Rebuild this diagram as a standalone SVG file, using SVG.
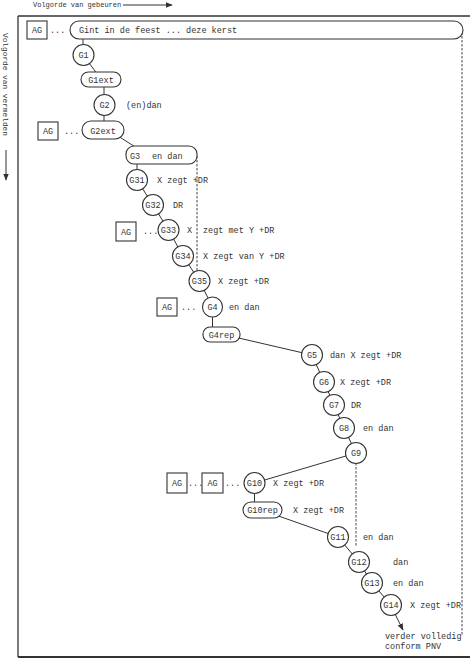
<svg xmlns="http://www.w3.org/2000/svg" width="470" height="659" viewBox="0 0 470 659">
<defs>
<style>
text{font-family:"Liberation Mono","DejaVu Sans Mono",monospace;font-size:8.5px;fill:#333}
.lbl{text-anchor:middle}
.n{fill:#fff;stroke:#333;stroke-width:1.1}
.c{stroke:#333;stroke-width:1;fill:none}
.d{stroke:#444;stroke-width:1;stroke-dasharray:2.5,1.5;fill:none}
.f{stroke:#333;fill:none}
.small{font-size:7px}
</style>
<marker id="ah" viewBox="0 0 10 10" refX="9" refY="5" markerWidth="7" markerHeight="7" orient="auto-start-reverse"><path d="M0,1 L10,5 L0,9 Z" fill="#333"/></marker>
</defs>
<rect width="470" height="659" fill="#fff"/>
<g id="frame">
<line class="f" x1="18" y1="16" x2="470" y2="16" stroke-width="1.3"/>
<line class="f" x1="18" y1="16" x2="18" y2="657" stroke-width="1.3"/>
<line class="f" x1="18" y1="657" x2="470" y2="657" stroke-width="2"/>
<text class="small" x="33" y="7">Volgorde van gebeuren</text>
<line class="c" x1="123" y1="5" x2="172" y2="5" marker-end="url(#ah)"/>
<text class="small" style="font-size:7.8px" transform="translate(3,33) rotate(90)">Volgorde van vermelden</text>
<line class="c" x1="6" y1="150" x2="6" y2="180" marker-end="url(#ah)"/>
</g>
<g id="connectors">
<line class="c" x1="83" y1="39" x2="83" y2="55"/>
<line class="c" x1="83" y1="55" x2="101" y2="79"/>
<line class="c" x1="104" y1="79" x2="104" y2="130"/>
<line class="c" x1="118" y1="136" x2="140" y2="150"/>
<line class="c" x1="137" y1="160" x2="137" y2="180"/>
<line class="c" x1="137" y1="180" x2="153" y2="205"/>
<line class="c" x1="153" y1="205" x2="168.5" y2="230"/>
<line class="c" x1="168.5" y1="230" x2="183" y2="256"/>
<line class="c" x1="183" y1="256" x2="199.5" y2="281"/>
<line class="c" x1="199.5" y1="281" x2="212.5" y2="307"/>
<line class="c" x1="212.5" y1="307" x2="212.5" y2="334"/>
<line class="c" x1="230" y1="336" x2="312" y2="355"/>
<line class="c" x1="312" y1="355" x2="324" y2="382"/>
<line class="c" x1="324" y1="382" x2="334" y2="405"/>
<line class="c" x1="334" y1="405" x2="344" y2="428"/>
<line class="c" x1="344" y1="428" x2="356" y2="453"/>
<line class="c" x1="356" y1="453" x2="254.5" y2="483"/>
<line class="c" x1="254.5" y1="483" x2="254.5" y2="510"/>
<line class="c" x1="270" y1="513" x2="338" y2="537"/>
<line class="c" x1="338" y1="537" x2="359" y2="562"/>
<line class="c" x1="359" y1="562" x2="372" y2="583"/>
<line class="c" x1="372" y1="583" x2="391" y2="605"/>
<line class="c" x1="394" y1="612" x2="403" y2="630" marker-end="url(#ah)"/>
<line class="d" x1="462" y1="32" x2="462" y2="636"/>
<line class="d" x1="197" y1="156" x2="197" y2="272"/>
<line class="d" x1="356" y1="463" x2="356" y2="546"/>
</g>
<g id="top">
<rect class="n" x="27" y="21" width="20" height="18"/>
<text class="lbl" x="37" y="33">AG</text>
<text x="50" y="33">...</text>
<rect class="n" x="70" y="21" width="393" height="18" rx="9"/>
<text x="79" y="33">Gint in de feest ... deze kerst</text>
</g>
<g id="G1"><circle class="n" cx="83.5" cy="55" r="10.5"/><text class="lbl" x="83.5" y="58">G1</text></g>
<g id="G1ext"><rect class="n" x="81" y="72" width="40" height="15" rx="7.5"/><text class="lbl" x="101" y="82.5">G1ext</text></g>
<g id="G2"><circle class="n" cx="104.5" cy="105" r="10.5"/><text class="lbl" x="104.5" y="108">G2</text><text x="126" y="108">(en)dan</text></g>
<g id="G2ext">
<rect class="n" x="38" y="122" width="20" height="18"/><text class="lbl" x="48" y="134">AG</text>
<text x="64" y="134">...</text>
<rect class="n" x="82" y="121" width="42" height="18" rx="9"/><text class="lbl" x="103" y="133.5">G2ext</text>
</g>
<g id="G3"><rect class="n" x="126" y="146" width="71" height="18" rx="8"/><text x="130" y="158.5">G3</text><text x="152" y="158.5">en dan</text></g>
<g id="G31"><circle class="n" cx="137" cy="180" r="10.5"/><text class="lbl" x="137" y="183">G31</text><text x="157" y="183">X zegt +DR</text></g>
<g id="G32"><circle class="n" cx="153" cy="205" r="10.5"/><text class="lbl" x="153" y="208">G32</text><text x="173" y="208">DR</text></g>
<g id="G33">
<rect class="n" x="116" y="222" width="20" height="19"/><text class="lbl" x="126" y="234.5">AG</text>
<text x="143" y="234">...</text>
<circle class="n" cx="168.5" cy="230" r="10.5"/><text class="lbl" x="168.5" y="233">G33</text>
<text x="187" y="233">X</text><text x="203" y="233">zegt met Y +DR</text>
</g>
<g id="G34"><circle class="n" cx="183" cy="256" r="10.5"/><text class="lbl" x="183" y="259">G34</text><text x="203" y="259">X zegt van Y +DR</text></g>
<g id="G35"><circle class="n" cx="199.5" cy="281" r="10.5"/><text class="lbl" x="199.5" y="284">G35</text><text x="218" y="284">X zegt +DR</text></g>
<g id="G4">
<rect class="n" x="157" y="298" width="20" height="18"/><text class="lbl" x="167" y="310">AG</text>
<text x="181" y="310">...</text>
<circle class="n" cx="212.5" cy="307" r="10"/><text class="lbl" x="212.5" y="310">G4</text><text x="229" y="310">en dan</text>
</g>
<g id="G4rep"><rect class="n" x="203" y="327" width="37" height="15" rx="7"/><text class="lbl" x="221.5" y="337.5">G4rep</text></g>
<g id="G5"><circle class="n" cx="312" cy="355" r="10.5"/><text class="lbl" x="312" y="358">G5</text><text x="330" y="358">dan X zegt +DR</text></g>
<g id="G6"><circle class="n" cx="324" cy="382" r="10.5"/><text class="lbl" x="324" y="385">G6</text><text x="340" y="385">X zegt +DR</text></g>
<g id="G7"><circle class="n" cx="334" cy="405" r="10.5"/><text class="lbl" x="334" y="408">G7</text><text x="351" y="408">DR</text></g>
<g id="G8"><circle class="n" cx="344" cy="428" r="10.5"/><text class="lbl" x="344" y="431">G8</text><text x="363" y="431">en dan</text></g>
<g id="G9"><circle class="n" cx="356" cy="453" r="10.5"/><text class="lbl" x="356" y="456">G9</text></g>
<g id="G10">
<rect class="n" x="167" y="473" width="20" height="20"/><text class="lbl" x="177" y="486">AG</text>
<text x="188" y="486">...</text>
<rect class="n" x="202" y="473" width="21" height="20"/><text class="lbl" x="212.5" y="486">AG</text>
<text x="225" y="486">...</text>
<circle class="n" cx="254.5" cy="483" r="10.5"/><text class="lbl" x="254.5" y="486">G10</text><text x="273" y="486">X zegt +DR</text>
</g>
<g id="G10rep"><rect class="n" x="243" y="502" width="39" height="16" rx="8"/><text class="lbl" x="262.5" y="513">G10rep</text><text x="293" y="513">X zegt +DR</text></g>
<g id="G11"><circle class="n" cx="338" cy="537" r="10.5"/><text class="lbl" x="338" y="540">G11</text><text x="363" y="540">en dan</text></g>
<g id="G12"><circle class="n" cx="359" cy="562" r="10.5"/><text class="lbl" x="359" y="565">G12</text><text x="393" y="565">dan</text></g>
<g id="G13"><circle class="n" cx="372" cy="583" r="10.5"/><text class="lbl" x="372" y="586">G13</text><text x="393" y="586">en dan</text></g>
<g id="G14"><circle class="n" cx="391" cy="605" r="10.5"/><text class="lbl" x="391" y="608">G14</text><text x="410" y="608">X zegt +DR</text></g>
<g id="end"><text x="385" y="639">verder volledig</text><text x="385" y="649">conform PNV</text></g>
</svg>
